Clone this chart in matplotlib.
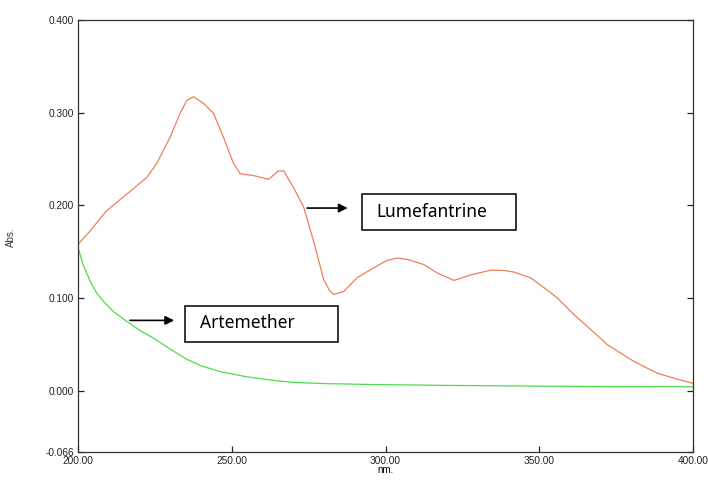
import matplotlib
matplotlib.use("Agg")
import matplotlib.pyplot as plt
from matplotlib.patches import Rectangle

# absorbance spectra (nm, Abs.)
lume_nm = [200.1, 203.9, 209.3, 215.9, 222.4, 225.6, 230.0, 233.2, 235.4, 237.6,
           240.8, 244.1, 247.3, 250.6, 252.8, 257.1, 262.0, 265.2, 266.9, 270.1,
           273.4, 276.6, 279.9, 281.8, 283.2, 286.4, 290.8, 296.2, 300.5, 303.8,
           307.1, 312.5, 316.8, 322.3, 327.7, 334.2, 338.5, 341.8, 347.2, 351.6,
           355.9, 361.3, 366.8, 372.2, 376.5, 380.9, 384.1, 388.5, 393.9, 400.0]
lume_abs = [0.158, 0.172, 0.194, 0.212, 0.230, 0.245, 0.2735, 0.299, 0.313, 0.317,
            0.310, 0.299, 0.2735, 0.245, 0.234, 0.232, 0.228, 0.237, 0.237, 0.219,
            0.198, 0.1615, 0.120, 0.108, 0.104, 0.107, 0.122, 0.1326, 0.1406, 0.143,
            0.1417, 0.136, 0.127, 0.119, 0.125, 0.130, 0.1297, 0.128, 0.1217, 0.111,
            0.100, 0.082, 0.0658, 0.0495, 0.0405, 0.0314, 0.026, 0.0188, 0.0134, 0.008]

arte_nm = [200.0, 201.7, 204.0, 206.1, 208.3, 211.5, 215.8, 220.2, 224.5, 230.0,
           235.4, 240.0, 246.3, 255.0, 262.5, 270.0, 280.0, 295.0, 320.0, 350.0,
           375.0, 400.0]
arte_abs = [0.155, 0.136, 0.118, 0.1055, 0.0965, 0.0856, 0.075, 0.065, 0.057, 0.045,
            0.034, 0.027, 0.0206, 0.015, 0.0116, 0.009, 0.0078, 0.0068, 0.0058, 0.005,
            0.0045, 0.0043]

xticks = [200, 250, 300, 350, 400]
yticks = [-0.066, 0.0, 0.1, 0.2, 0.3, 0.4]

fig = plt.figure(figsize=(7.08, 4.94), dpi=100)
ax = fig.add_axes([0.110, 0.085, 0.869, 0.875])

ax.plot(lume_nm, lume_abs, color="#ee7f5a", lw=0.9)
ax.plot(arte_nm, arte_abs, color="#4cdc4c", lw=0.9)

ax.set_xlim(200, 400)
ax.set_ylim(-0.066, 0.4)
ax.set_xticks(xticks)
ax.set_xticklabels([f"{v:.2f}" for v in xticks])
ax.set_yticks(yticks)
ax.set_yticklabels([f"{v:.3f}" for v in yticks])
ax.tick_params(direction="in", length=4, width=0.9, labelsize=7.3, pad=3,
               colors="#222222", right=True)
ax.tick_params(axis="y", labelright=False)
for lab in ax.get_xticklabels() + ax.get_yticklabels():
    lab.set_family("Liberation Sans")
for sp in ax.spines.values():
    sp.set_linewidth(0.9)
    sp.set_color("#333333")

ax.set_xlabel("nm.", fontsize=7, family="Liberation Sans", labelpad=-1)
fig.text(0.016, 0.52, "Abs.", rotation=90, fontsize=7, family="Liberation Sans",
         ha="center", va="center", color="#333333")

# labelled boxes with arrows
labels = [("Lumefantrine", (292.2, 0.1734), 50.2, 0.0391, 297.1, 0.193, (273.6, 288.6, 0.197)),
          ("Artemether", (234.9, 0.053), 49.8, 0.038, 239.7, 0.0726, (216.0, 232.2, 0.0759))]
for name, xy, w, h, tx, ty, (a0, a1, ay) in labels:
    ax.add_patch(Rectangle(xy, w, h, fill=False, lw=1.1, ec="black"))
    ax.text(tx, ty, name, fontsize=12.5, family="Noto Sans", va="center", ha="left")
    ax.annotate("", xy=(a1, ay), xytext=(a0, ay),
                arrowprops=dict(arrowstyle="-|>", color="black", lw=1.2, mutation_scale=13))

fig.savefig("out.png", dpi=100)
